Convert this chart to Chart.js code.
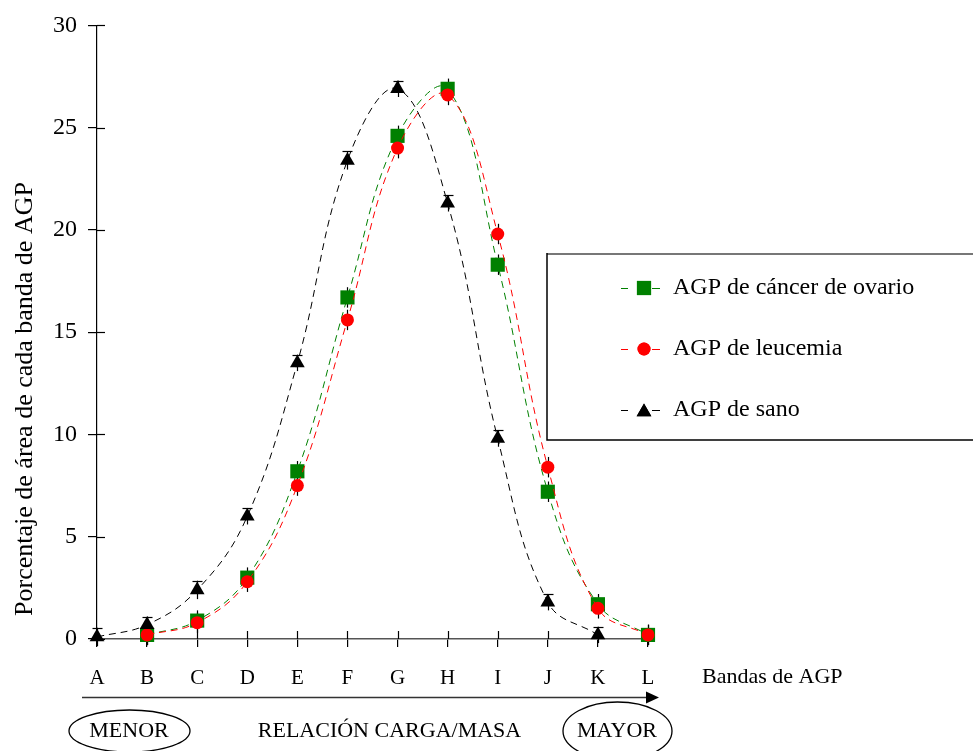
<!DOCTYPE html>
<html>
<head>
<meta charset="utf-8">
<script src="https://cdn.jsdelivr.net/npm/chart.js@4/dist/chart.umd.min.js"></script>
<style>
  html, body { margin: 0; padding: 0; background: #fff; }
  #wrap { width: 973px; height: 751px; position: relative; }
</style>
</head>
<body>
<div id="wrap"><canvas id="c" width="973" height="751"></canvas></div>
<script>
// Bandas de AGP (eje X) y marcas del eje Y
const bandas = ['A', 'B', 'C', 'D', 'E', 'F', 'G', 'H', 'I', 'J', 'K', 'L'];
const yTicks = [0, 5, 10, 15, 20, 25, 30];

// Porcentaje de área de cada banda
const ovario    = [null, 0.2, 0.9, 3.0, 8.2, 16.7, 24.6, 26.9, 18.3, 7.2, 1.7, 0.2];
const leucemia  = [null, 0.2, 0.8, 2.8, 7.5, 15.6, 24.0, 26.6, 19.8, 8.4, 1.5, 0.2];
const sano      = [0.1, 0.7, 2.4, 6.0, 13.5, 23.4, 26.9, 21.3, 9.8, 1.8, 0.2, null];

// Desviaciones (barras de error)
const ovarioErr   = [null, 0.5, 0.5, 0.5, 0.5, 0.5, 0.5, 0.5, 0.5, 0.5, 0.5, 0.5];
const leucemiaErr = [null, 0.5, 0.5, 0.5, 0.5, 0.5, 0.5, 0.5, 0.5, 0.5, 0.5, 0.5];
const sanoErr     = [0.45, 0.4, 0.45, 0.4, 0.4, 0.45, 0.4, 0.4, 0.4, 0.4, 0.4, null];

const nombres = ['AGP de cáncer de ovario', 'AGP de leucemia', 'AGP de sano'];
const colores = ['#008000', '#ff0000', '#000000'];
const estilos = ['rect', 'circle', 'triangle'];
const radios  = [10, 6.5, 8.5];
const errores = [ovarioErr, leucemiaErr, sanoErr];

const FONT = '"Liberation Serif", "Times New Roman", serif';
Chart.defaults.font.family = FONT;
Chart.defaults.color = '#000';

function serie(i, data, order) {
  return {
    label: nombres[i],
    data: data,
    borderColor: colores[i],
    backgroundColor: colores[i],
    borderWidth: 1,
    borderDash: [7, 5],
    tension: 0.4,
    pointStyle: estilos[i],
    pointRadius: radios[i],
    pointBorderWidth: 0,
    pointBackgroundColor: colores[i],
    pointHoverRadius: radios[i],
    fill: false,
    spanGaps: false,
    clip: false,
    order: order
  };
}

const extras = {
  id: 'extras',
  beforeDatasetsDraw(chart) {
    const ctx = chart.ctx;
    const xs = chart.scales.x, ys = chart.scales.y;
    const area = chart.chartArea;
    ctx.save();
    // marcas hacia el interior de los ejes
    ctx.strokeStyle = '#000';
    ctx.lineWidth = 1.2;
    bandas.forEach((b, i) => {
      const px = Math.round(xs.getPixelForValue(i)) + 0.5;
      ctx.beginPath();
      ctx.moveTo(px, area.bottom);
      ctx.lineTo(px, area.bottom - 8);
      ctx.stroke();
    });
    yTicks.forEach(v => {
      const py = Math.round(ys.getPixelForValue(v)) + 0.5;
      ctx.beginPath();
      ctx.moveTo(area.left, py);
      ctx.lineTo(area.left + 8, py);
      ctx.stroke();
    });
    // barras de error
    [ovario, leucemia, sano].forEach((data, d) => {
      const err = errores[d];
      data.forEach((v, j) => {
        if (v === null) return;
        const px = Math.round(xs.getPixelForValue(j)) + 0.5;
        const top = ys.getPixelForValue(v + err[j]);
        const bot = ys.getPixelForValue(Math.max(v - err[j], -0.6));
        ctx.strokeStyle = '#000';
        ctx.lineWidth = 1.2;
        ctx.beginPath();
        ctx.moveTo(px, top);
        ctx.lineTo(px, bot);
        ctx.stroke();
        if (d === 2) {
          ctx.beginPath();
          ctx.moveTo(px - 5, Math.round(top) + 0.5);
          ctx.lineTo(px + 5, Math.round(top) + 0.5);
          ctx.stroke();
        }
      });
    });
    ctx.restore();
  },
  afterDraw(chart) {
    const ctx = chart.ctx;
    ctx.save();
    ctx.fillStyle = '#000';

    // título del eje Y
    ctx.save();
    ctx.translate(25, 399);
    ctx.rotate(-Math.PI / 2);
    ctx.font = '26px ' + FONT;
    ctx.textAlign = 'center';
    ctx.textBaseline = 'middle';
    ctx.fillText('Porcentaje de área de cada banda de AGP', 0, 0);
    ctx.restore();

    // leyenda
    ctx.strokeStyle = '#777';
    ctx.lineWidth = 2;
    ctx.beginPath();
    ctx.moveTo(547, 254);
    ctx.lineTo(973, 254);
    ctx.stroke();
    ctx.strokeStyle = '#000';
    ctx.lineWidth = 1.5;
    ctx.beginPath();
    ctx.moveTo(547, 253);
    ctx.lineTo(547, 440);
    ctx.lineTo(973, 440);
    ctx.stroke();
    const filas = [288, 349, 410];
    nombres.forEach((n, i) => {
      const y = filas[i];
      ctx.strokeStyle = colores[i];
      ctx.lineWidth = 1;
      ctx.beginPath();
      ctx.moveTo(621, y + 0.5); ctx.lineTo(628, y + 0.5);
      ctx.moveTo(652, y + 0.5); ctx.lineTo(660, y + 0.5);
      ctx.stroke();
      ctx.fillStyle = colores[i];
      Chart.helpers.drawPoint(ctx, {
        pointStyle: estilos[i], radius: radios[i], rotation: 0, borderWidth: 0
      }, 644, i === 2 ? y + 2 : y);
      ctx.fill();
      ctx.fillStyle = '#000';
      ctx.font = '24px ' + FONT;
      ctx.textAlign = 'left';
      ctx.textBaseline = 'middle';
      ctx.fillText(n, 673, y);
    });

    // nombre del eje X
    ctx.font = '22px ' + FONT;
    ctx.textAlign = 'left';
    ctx.textBaseline = 'middle';
    ctx.fillText('Bandas de AGP', 702, 677);

    // flecha de relación carga/masa
    ctx.strokeStyle = '#333';
    ctx.lineWidth = 1.5;
    ctx.beginPath();
    ctx.moveTo(82, 697.5);
    ctx.lineTo(650, 697.5);
    ctx.stroke();
    ctx.fillStyle = '#000';
    ctx.beginPath();
    ctx.moveTo(646, 691.5);
    ctx.lineTo(659, 697.5);
    ctx.lineTo(646, 703.5);
    ctx.closePath();
    ctx.fill();

    // elipses y rótulos
    ctx.strokeStyle = '#000';
    ctx.lineWidth = 1.3;
    ctx.beginPath();
    ctx.ellipse(129.5, 731, 60.5, 21, 0, 0, Math.PI * 2);
    ctx.stroke();
    ctx.beginPath();
    ctx.ellipse(617.5, 731, 54.5, 29, 0, 0, Math.PI * 2);
    ctx.stroke();
    ctx.font = '22px ' + FONT;
    ctx.textAlign = 'center';
    ctx.fillText('MENOR', 129, 731);
    ctx.fillText('RELACIÓN CARGA/MASA', 389.5, 731);
    ctx.fillText('MAYOR', 617, 731);
    ctx.restore();
  }
};

new Chart(document.getElementById('c'), {
  type: 'line',
  data: {
    labels: bandas,
    datasets: [
      serie(0, ovario, 2),
      serie(1, leucemia, 1),
      serie(2, sano, 0)
    ]
  },
  options: {
    responsive: false,
    devicePixelRatio: 1,
    animation: false,
    events: [],
    layout: { padding: { left: 0, top: 23, right: 325, bottom: 0 } },
    plugins: { legend: { display: false }, tooltip: { enabled: false } },
    scales: {
      x: {
        type: 'category',
        offset: false,
        grid: { display: true, drawOnChartArea: false, drawTicks: true, tickLength: 8, color: '#000', lineWidth: 1.2 },
        border: { display: true, color: '#555', width: 1.5 },
        ticks: { font: { size: 21 }, color: '#000', padding: 19, maxRotation: 0, autoSkip: false },
        afterFit(s) { s.height = 112; }
      },
      y: {
        min: 0,
        max: 30,
        afterBuildTicks(s) { s.ticks = yTicks.map(v => ({ value: v })); },
        grid: { display: true, drawOnChartArea: false, drawTicks: true, tickLength: 9, color: '#000', lineWidth: 1.2 },
        border: { display: true, color: '#000', width: 1.2 },
        ticks: { font: { size: 24 }, color: '#000', padding: 11 },
        afterFit(s) { s.width = 97; }
      }
    }
  },
  plugins: [extras]
});
</script>
</body>
</html>
